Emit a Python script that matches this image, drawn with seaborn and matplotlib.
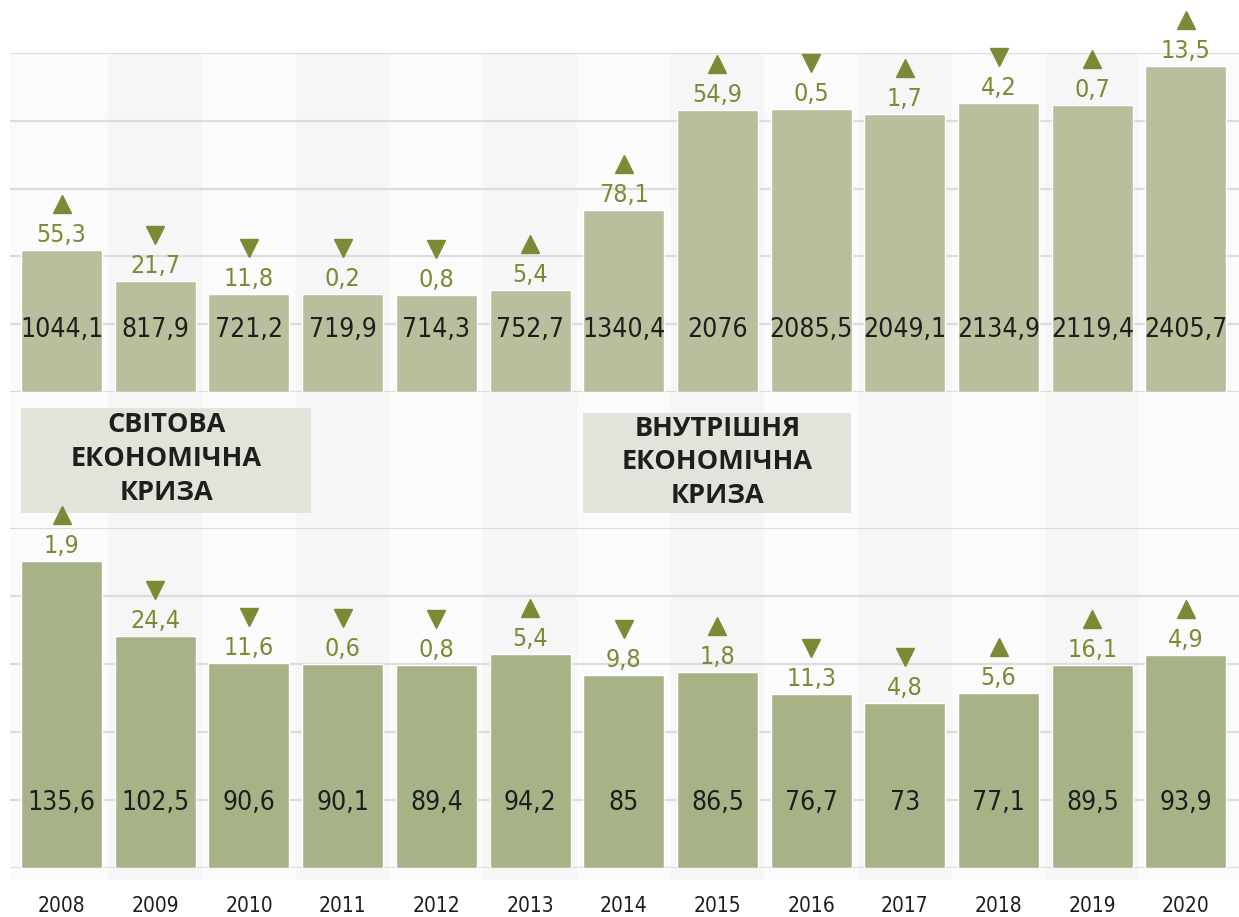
import matplotlib
matplotlib.use('Agg')
import matplotlib.pyplot as plt
import matplotlib.transforms as mtransforms
from matplotlib.patches import Rectangle
import seaborn as sns
import pandas as pd

# ---------------- data ----------------
years = ['2008', '2009', '2010', '2011', '2012', '2013', '2014',
         '2015', '2016', '2017', '2018', '2019', '2020']
top_values = [1044.1, 817.9, 721.2, 719.9, 714.3, 752.7, 1340.4,
              2076, 2085.5, 2049.1, 2134.9, 2119.4, 2405.7]
top_change = [55.3, 21.7, 11.8, 0.2, 0.8, 5.4, 78.1, 54.9, 0.5, 1.7, 4.2, 0.7, 13.5]
top_dir = ['up', 'down', 'down', 'down', 'down', 'up', 'up',
           'up', 'down', 'up', 'down', 'up', 'up']
bottom_values = [135.6, 102.5, 90.6, 90.1, 89.4, 94.2, 85,
                 86.5, 76.7, 73, 77.1, 89.5, 93.9]
bottom_change = [1.9, 24.4, 11.6, 0.6, 0.8, 5.4, 9.8, 1.8, 11.3, 4.8, 5.6, 16.1, 4.9]
bottom_dir = ['up', 'down', 'down', 'down', 'down', 'up', 'down',
              'up', 'down', 'down', 'up', 'up', 'up']
crisis_labels = ['СВІТОВА\nЕКОНОМІЧНА\nКРИЗА', 'ВНУТРІШНЯ\nЕКОНОМІЧНА\nКРИЗА']

# ---------------- style ----------------
sns.set_theme(style='white')
plt.rcParams['font.family'] = ['DejaVu Sans']
plt.rcParams['font.stretch'] = 'condensed'
NUM = dict(family=['DejaVu Sans'], stretch='condensed')

TOP_BAR = '#b8bf9d'
BOT_BAR = '#a8b287'
GREEN = '#7b8b35'
GRID = '#dcdcdc'
DARK = '#1e1e1e'

W, H = 1239, 917
fig = plt.figure(figsize=(W / 100, H / 100), dpi=100)
fig.patch.set_facecolor('white')

XMIN, XMAX = -0.55, 12.566
left = 10 / W
width = 1 - left


def fmt(v):
    return f"{v:g}".replace('.', ',')


# background axes with alternating column shading
bg = fig.add_axes([left, (H - 880) / H, width, (880 - 53) / H])
bg.set_xlim(XMIN, XMAX)
bg.set_ylim(0, 1)
bg.axis('off')
for i in range(len(years)):
    x0 = XMIN if i == 0 else i - 0.5
    x1 = XMAX if i == len(years) - 1 else i + 0.5
    bg.axvspan(x0, x1, color='#f6f6f6' if i % 2 else '#fbfbfb', lw=0)

# crisis boxes
boxes = [(-0.43, 2.66, 0.4438, 0.5707, 1.12, 0.509),
         (5.57, 8.42, 0.4438, 0.5647, 7.0, 0.505)]
for (x0, x1, y0, y1, tx, ty), lab in zip(boxes, crisis_labels):
    tr = mtransforms.blended_transform_factory(bg.transData, bg.transAxes)
    bg.add_patch(Rectangle((x0, y0), x1 - x0, y1 - y0, transform=tr,
                           facecolor='#e1e4da', edgecolor='none'))
    bg.text(tx, ty, lab, transform=tr, ha='center', va='center',
            fontsize=19.5, fontweight='bold', color=DARK, linespacing=1.38,
            family=['Open Sans', 'DejaVu Sans'], stretch='normal')


def panel(rect, values, change, dirs, ymax, step, color, label_frac, show_x):
    ax = fig.add_axes(rect)
    ax.patch.set_alpha(0)
    df = pd.DataFrame({'year': years, 'value': values})
    sns.barplot(data=df, x='year', y='value', order=years, color=color,
                saturation=1, width=0.864, ax=ax, zorder=2)
    ax.set_xlim(XMIN, XMAX)
    ax.set_ylim(0, ymax)
    ax.set_yticks(list(range(0, ymax + 1, step)))
    ax.set_yticklabels([])
    ax.yaxis.grid(True, color=GRID, lw=1.6)
    ax.xaxis.grid(False)
    ax.set_axisbelow(True)
    for s in ax.spines.values():
        s.set_visible(False)
    ax.set_xlabel('')
    ax.set_ylabel('')
    ax.tick_params(axis='both', length=0)
    if show_x:
        ax.tick_params(axis='x', pad=20, labelsize=15, labelcolor=DARK)
        for t in ax.get_xticklabels():
            t.set_fontstretch('condensed')
    else:
        ax.set_xticklabels([])

    blend = mtransforms.blended_transform_factory(ax.transData, ax.transAxes)
    tri_tr = mtransforms.offset_copy(ax.transData, fig=fig, x=0, y=46, units='dots')
    for i, (v, c, d) in enumerate(zip(values, change, dirs)):
        ax.text(i, label_frac, fmt(v), transform=blend, ha='center', va='center',
                fontsize=19, color=DARK, zorder=4, **NUM)
        ax.annotate(fmt(c), (i, v), xytext=(0, 8), textcoords='offset pixels',
                    ha='center', va='baseline', fontsize=18, color=GREEN,
                    annotation_clip=False, zorder=4, **NUM)
        ax.plot([i], [v], marker='^' if d == 'up' else 'v', ms=12.5, color=GREEN,
                transform=tri_tr, clip_on=False, ls='none', zorder=5)
    return ax


ax_top = panel([left, (H - 392) / H, width, 339 / H], top_values, top_change,
               top_dir, 2500, 500, TOP_BAR, 0.183, False)
ax_bot = panel([left, (H - 868) / H, width, 340 / H], bottom_values, bottom_change,
               bottom_dir, 150, 30, BOT_BAR, 0.19, True)

fig.savefig('out.png', dpi=100, facecolor='white')
